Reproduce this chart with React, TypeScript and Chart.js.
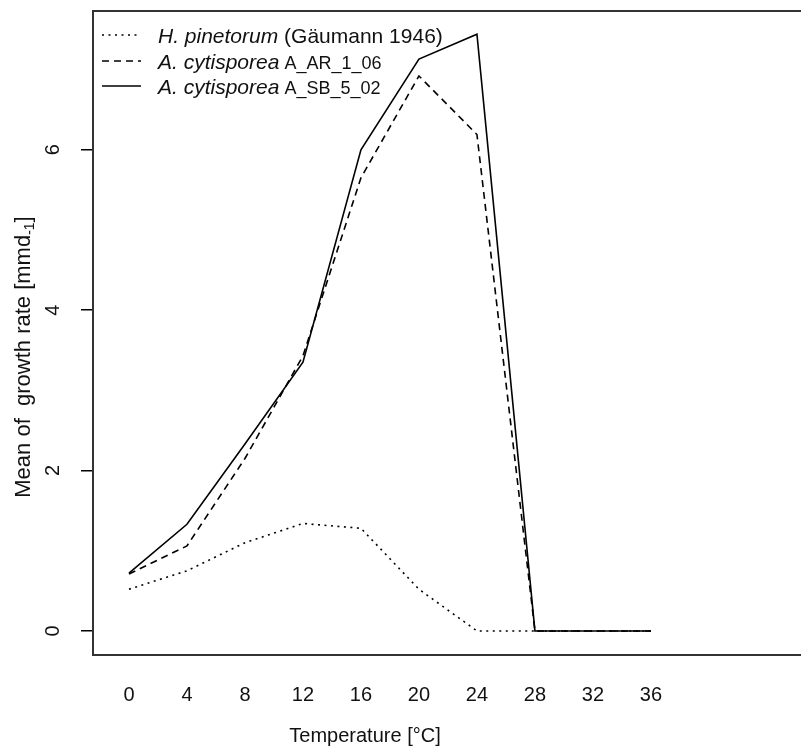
import React, { useEffect, useRef } from "react";
import { Chart, registerables } from "chart.js";

Chart.register(...registerables);

// ---- data ----
const temperatures = [0, 4, 8, 12, 16, 20, 24, 28, 32, 36];
const hPinetorum = [0.52, 0.75, 1.1, 1.34, 1.28, 0.52, 0, 0, 0, 0];
const aCytisporeaAR = [0.71, 1.06, 2.15, 3.43, 5.65, 6.92, 6.19, 0, 0, 0];
const aCytisporeaSB = [0.72, 1.33, 2.33, 3.35, 6.0, 7.13, 7.44, 0, 0, 0];
const xTickValues = [0, 4, 8, 12, 16, 20, 24, 28, 32, 36];
const yTickValues = [0, 2, 4, 6];

const seriesNames = ["H. pinetorum (Gäumann 1946)", "A. cytisporea A_AR_1_06", "A. cytisporea A_SB_5_02"];
const legendItalic = ["H. pinetorum", "A. cytisporea", "A. cytisporea"];
const legendRest = [" (Gäumann 1946)", " A_AR_1_06", " A_SB_5_02"];
const legendRestSmall = [false, true, true];
const xTitle = "Temperature [°C]";
const yTitleMain = "Mean of  growth rate [mmd";
const yTitleSub = "-1";
const yTitleEnd = "]";

const X_MIN = -2.48;
const X_MAX = 46.35;
const Y_MIN = -0.3;
const Y_MAX = 7.73;

const FAMILY = "'Liberation Sans', Arial, Helvetica, sans-serif";
const DASHES: number[][] = [[2, 4.5], [7, 5], []];

const overlayPlugin = {
  id: "overlay",
  afterDraw(chart: any) {
    const ctx: CanvasRenderingContext2D = chart.ctx;
    ctx.save();
    ctx.fillStyle = "#111";
    ctx.textBaseline = "alphabetic";
    ctx.textAlign = "left";

    // legend
    const rowsY = [35, 61, 86];
    for (let i = 0; i < 3; i++) {
      const cy = rowsY[i];
      ctx.strokeStyle = "#000";
      ctx.lineWidth = 1.6;
      ctx.setLineDash(DASHES[i]);
      ctx.beginPath();
      ctx.moveTo(102, cy);
      ctx.lineTo(141, cy);
      ctx.stroke();
      ctx.setLineDash([]);
      ctx.font = `italic 21px ${FAMILY}`;
      ctx.fillText(legendItalic[i], 158, cy + 7.5);
      const w = ctx.measureText(legendItalic[i]).width;
      ctx.font = legendRestSmall[i] ? `18px ${FAMILY}` : `21px ${FAMILY}`;
      ctx.fillText(legendRest[i], 158 + w, cy + 7.5);
    }

    // x title
    ctx.font = `20px ${FAMILY}`;
    ctx.textAlign = "center";
    ctx.fillText(xTitle, 365, 742);

    // y title (rotated, with subscript)
    ctx.translate(22, 357);
    ctx.rotate(-Math.PI / 2);
    ctx.textAlign = "left";
    ctx.font = `22px ${FAMILY}`;
    const w1 = ctx.measureText(yTitleMain).width;
    const w3 = ctx.measureText(yTitleEnd).width;
    ctx.font = `14px ${FAMILY}`;
    const w2 = ctx.measureText(yTitleSub).width;
    const total = w1 + w2 + w3;
    let cx = -total / 2;
    ctx.font = `22px ${FAMILY}`;
    ctx.fillText(yTitleMain, cx, 8);
    cx += w1;
    ctx.font = `14px ${FAMILY}`;
    ctx.fillText(yTitleSub, cx, 12);
    cx += w2;
    ctx.font = `22px ${FAMILY}`;
    ctx.fillText(yTitleEnd, cx, 8);
    ctx.restore();
  },
};

export default function App() {
  const ref = useRef<HTMLCanvasElement | null>(null);

  useEffect(() => {
    if (!ref.current) return;
    const data = [hPinetorum, aCytisporeaAR, aCytisporeaSB];
    const chart = new Chart(ref.current, {
      type: "line",
      data: {
        datasets: data.map((vals, i) => ({
          label: seriesNames[i],
          data: temperatures.map((t, j) => ({ x: t, y: vals[j] })),
          borderColor: "#000",
          borderWidth: 1.6,
          borderDash: DASHES[i],
          pointRadius: 0,
          tension: 0,
          fill: false,
          xAxisID: "x",
          yAxisID: "y",
        })),
      },
      options: {
        responsive: false,
        maintainAspectRatio: false,
        animation: false,
        layout: { padding: 0 },
        plugins: { legend: { display: false }, tooltip: { enabled: false }, title: { display: false } },
        scales: {
          x: {
            type: "linear",
            position: "bottom",
            min: X_MIN,
            max: X_MAX,
            afterBuildTicks: (s: any) => {
              s.ticks = xTickValues.map((v) => ({ value: v }));
            },
            afterFit: (s: any) => {
              s.height = 91;
              s.paddingLeft = 0;
              s.paddingRight = 0;
              s.paddingTop = 0;
              s.paddingBottom = 0;
            },
            ticks: {
              color: "#111",
              font: { family: FAMILY, size: 20 },
              padding: 28,
              maxRotation: 0,
              minRotation: 0,
              autoSkip: false,
              callback: (v: any) => String(v),
            },
            grid: { display: false, drawTicks: false },
            border: { display: true, color: "#333", width: 2 },
          },
          xTop: {
            type: "linear",
            position: "top",
            min: X_MIN,
            max: X_MAX,
            afterFit: (s: any) => {
              s.height = 11;
              s.paddingLeft = 0;
              s.paddingRight = 0;
              s.paddingTop = 0;
              s.paddingBottom = 0;
            },
            ticks: { display: false },
            grid: { display: false, drawTicks: false },
            border: { display: true, color: "#333", width: 2 },
          },
          y: {
            type: "linear",
            position: "left",
            min: Y_MIN,
            max: Y_MAX,
            afterBuildTicks: (s: any) => {
              s.ticks = yTickValues.map((v) => ({ value: v }));
            },
            afterFit: (s: any) => {
              s.width = 93;
              s.paddingLeft = 0;
              s.paddingRight = 0;
              s.paddingTop = 0;
              s.paddingBottom = 0;
            },
            ticks: {
              color: "#111",
              font: { family: FAMILY, size: 20 },
              padding: 22,
              minRotation: 90,
              maxRotation: 90,
              crossAlign: "center",
              autoSkip: false,
              callback: (v: any) => String(v),
            },
            grid: {
              drawOnChartArea: false,
              drawTicks: true,
              tickLength: 12,
              color: "#000",
              lineWidth: 1.5,
            },
            border: { display: true, color: "#333", width: 2 },
          },
        },
      } as any,
      plugins: [overlayPlugin],
    });
    return () => chart.destroy();
  }, []);

  return (
    <div style={{ position: "absolute", left: 0, top: 0, width: 801, height: 746, overflow: "hidden", background: "#fff" }}>
      <canvas ref={ref} width={801} height={746} style={{ display: "block" }} />
    </div>
  );
}
